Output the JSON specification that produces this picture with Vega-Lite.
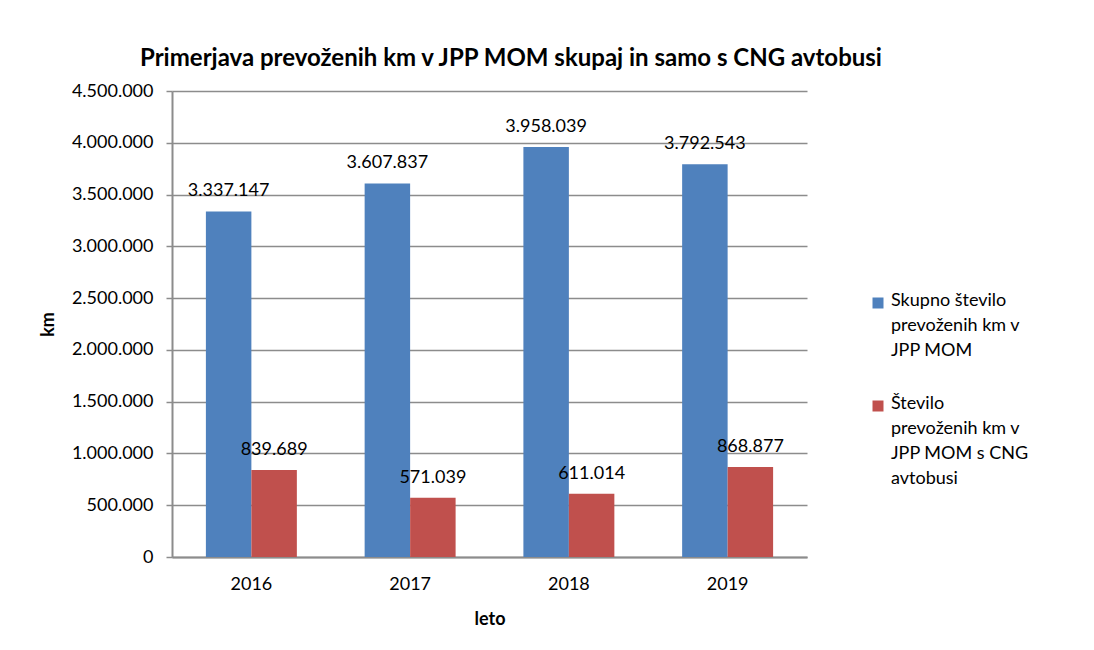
{
  "$schema": "https://vega.github.io/schema/vega-lite/v6.json",
  "width": 635,
  "height": 466,
  "autosize": {"type": "none"},
  "padding": {"left": 172, "top": 91, "right": 287, "bottom": 93},
  "background": "white",
  "config": {
    "locale": {"number": {"decimal": ",", "thousands": ".", "grouping": [3], "currency": ["", ""]}},
    "view": {"stroke": null},
    "font": "Lato"
  },
  "title": {
    "text": "Primerjava prevoženih km v JPP MOM skupaj in samo s CNG avtobusi",
    "font": "Lato",
    "fontSize": 24,
    "fontWeight": "bold",
    "color": "#000000",
    "anchor": "start",
    "frame": "group",
    "dx": -32,
    "offset": 11
  },
  "data": {
    "values": [
      {"leto": "2016", "serija": "Skupno število prevoženih km v JPP MOM", "km": 3337147},
      {"leto": "2017", "serija": "Skupno število prevoženih km v JPP MOM", "km": 3607837},
      {"leto": "2018", "serija": "Skupno število prevoženih km v JPP MOM", "km": 3958039},
      {"leto": "2019", "serija": "Skupno število prevoženih km v JPP MOM", "km": 3792543},
      {"leto": "2016", "serija": "Število prevoženih km v JPP MOM s CNG avtobusi", "km": 839689},
      {"leto": "2017", "serija": "Število prevoženih km v JPP MOM s CNG avtobusi", "km": 571039},
      {"leto": "2018", "serija": "Število prevoženih km v JPP MOM s CNG avtobusi", "km": 611014},
      {"leto": "2019", "serija": "Število prevoženih km v JPP MOM s CNG avtobusi", "km": 868877}
    ]
  },
  "encoding": {
    "x": {
      "field": "leto",
      "type": "ordinal",
      "scale": {"paddingInner": 0.427, "paddingOuter": 0.2135},
      "axis": {
        "title": "leto",
        "titleFont": "Lato",
        "titleFontSize": 18,
        "titleFontWeight": "bold",
        "titleColor": "#000000",
        "titlePadding": 17,
        "labelAngle": 0,
        "labelFont": "Lato",
        "labelFontSize": 18,
        "labelColor": "#000000",
        "labelPadding": 18,
        "ticks": false,
        "domainColor": "#8c8c8c",
        "domainWidth": 2
      }
    },
    "xOffset": {
      "field": "serija",
      "type": "nominal",
      "scale": {
        "domain": ["Skupno število prevoženih km v JPP MOM", "Število prevoženih km v JPP MOM s CNG avtobusi"],
        "paddingInner": 0,
        "paddingOuter": 0
      }
    },
    "y": {
      "field": "km",
      "type": "quantitative",
      "scale": {"domain": [0, 4500000], "nice": false},
      "axis": {
        "title": "km",
        "titleFont": "Lato",
        "titleFontSize": 18,
        "titleFontWeight": "bold",
        "titleColor": "#000000",
        "titlePadding": 14,
        "values": [0, 500000, 1000000, 1500000, 2000000, 2500000, 3000000, 3500000, 4000000, 4500000],
        "format": ",d",
        "labelFont": "Lato",
        "labelFontSize": 18,
        "labelColor": "#000000",
        "labelPadding": 13,
        "tickSize": 6,
        "tickColor": "#8c8c8c",
        "tickWidth": 1.5,
        "domainColor": "#8c8c8c",
        "domainWidth": 2,
        "grid": true,
        "gridColor": "#8c8c8c",
        "gridWidth": 1.5
      }
    }
  },
  "layer": [
    {
      "mark": {"type": "bar"},
      "encoding": {
        "color": {
          "field": "serija",
          "type": "nominal",
          "scale": {
            "domain": ["Skupno število prevoženih km v JPP MOM", "Število prevoženih km v JPP MOM s CNG avtobusi"],
            "range": ["#4F81BD", "#C0504D"]
          },
          "legend": {
            "title": null,
            "orient": "none",
            "legendX": 697,
            "legendY": 203,
            "symbolType": "square",
            "symbolSize": 121,
            "symbolStrokeWidth": 0,
            "labelFont": "Lato",
            "labelFontSize": 18,
            "labelColor": "#000000",
            "labelLimit": 300,
            "labelOffset": 4,
            "labelBaseline": "top",
            "rowPadding": 35,
            "labelExpr": "datum.value == 'Skupno število prevoženih km v JPP MOM' ? ['Skupno število', 'prevoženih km v', 'JPP MOM'] : ['Število', 'prevoženih km v', 'JPP MOM s CNG', 'avtobusi']",
            "encode": {"labels": {"update": {"lineHeight": {"value": 25}, "dy": {"value": -11}}}}
          }
        }
      }
    },
    {
      "mark": {"type": "text", "baseline": "alphabetic", "align": "center", "dy": -15, "font": "Lato", "fontSize": 18, "color": "#000000"},
      "encoding": {
        "text": {"field": "km", "type": "quantitative", "format": ",d"}
      }
    }
  ]
}
